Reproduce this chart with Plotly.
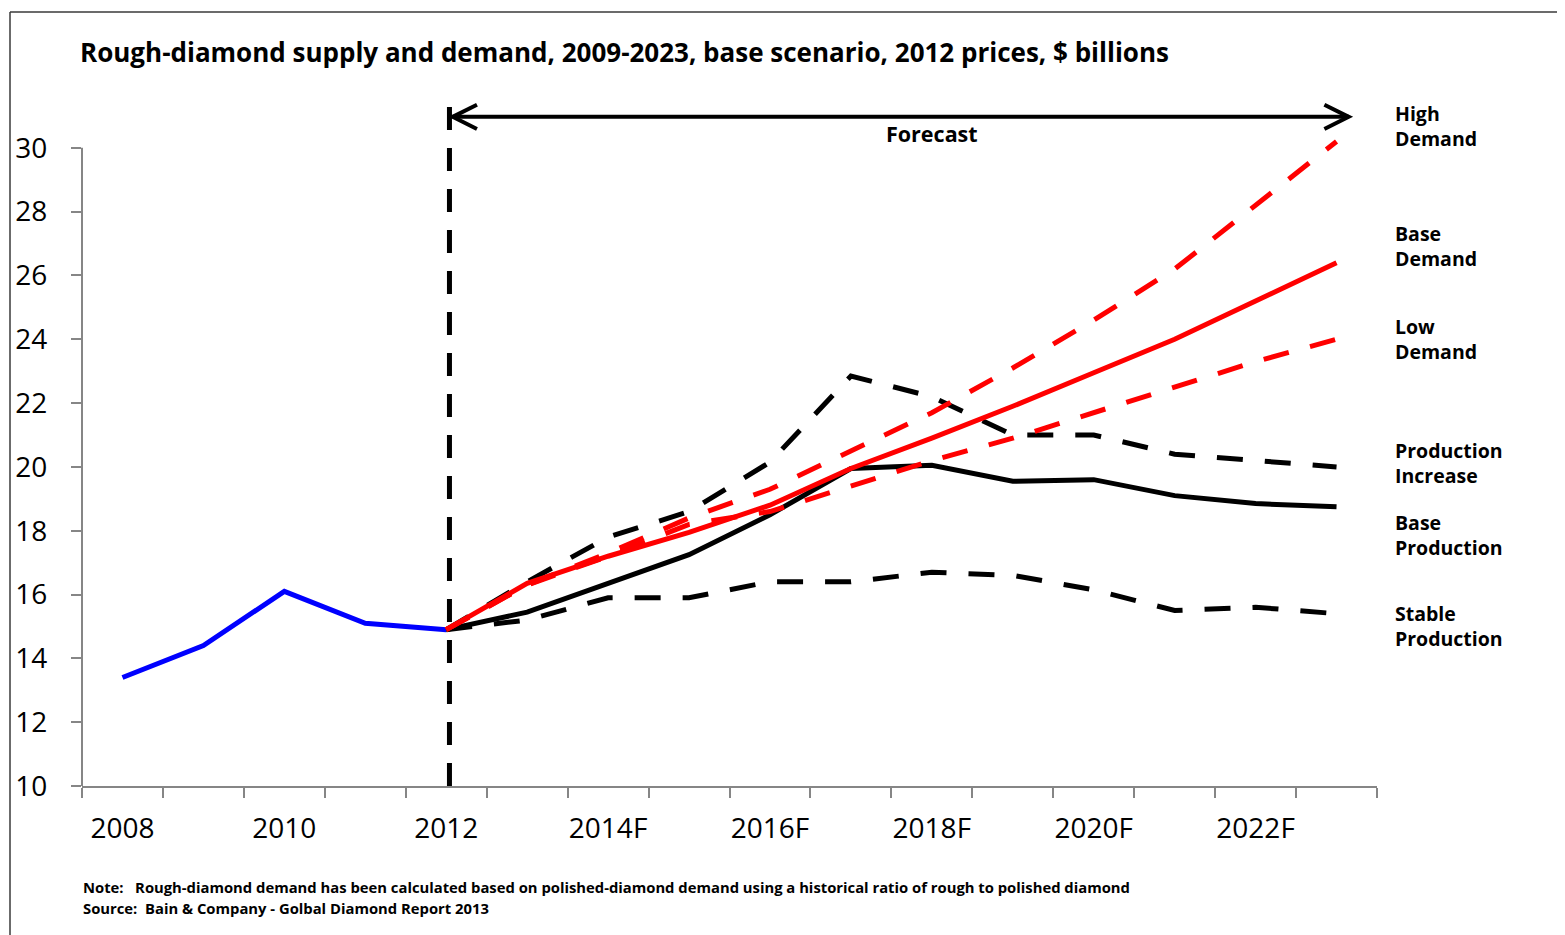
import plotly.graph_objects as go

# ---------------- data ----------------
hist_years = [2008, 2009, 2010, 2011, 2012]
hist_values = [13.4, 14.4, 16.1, 15.1, 14.9]

fc_years = [2012, 2013, 2014, 2015, 2016, 2017, 2018, 2019, 2020, 2021, 2022, 2023]
high_demand = [14.9, 16.3, 17.3, 18.4, 19.3, 20.5, 21.7, 23.1, 24.6, 26.2, 28.2, 30.2]
base_demand = [14.9, 16.35, 17.2, 17.95, 18.8, 19.95, 20.9, 21.9, 22.95, 24.0, 25.2, 26.4]
low_demand = [14.9, 16.3, 17.2, 18.2, 18.6, 19.4, 20.2, 20.9, 21.7, 22.5, 23.3, 24.0]
production_increase = [14.9, 16.4, 17.8, 18.6, 20.15, 22.85, 22.2, 21.0, 21.0, 20.4, 20.2, 20.0]
base_production = [14.9, 15.45, 16.35, 17.25, 18.5, 19.95, 20.05, 19.55, 19.6, 19.1, 18.85, 18.75]
stable_production = [14.9, 15.2, 15.9, 15.9, 16.4, 16.4, 16.7, 16.6, 16.15, 15.5, 15.6, 15.4]

tick_years = [2008, 2010, 2012, 2014, 2016, 2018, 2020, 2022]
tick_labels = ["2008", "2010", "2012", "2014F", "2016F", "2018F", "2020F", "2022F"]
y_ticks = [10, 12, 14, 16, 18, 20, 22, 24, 26, 28, 30]

series_labels = ["High<br>Demand", "Base<br>Demand", "Low<br>Demand",
                 "Production<br>Increase", "Base<br>Production", "Stable<br>Production"]
series_label_y = [30.69, 26.93, 24.01, 20.13, 17.87, 15.02]

title_text = "Rough-diamond supply and demand, 2009-2023, base scenario, 2012 prices, $ billions"
note_text = "Note:   Rough-diamond demand has been calculated based on polished-diamond demand using a historical ratio of rough to polished diamond"
source_text = "Source:  Bain & Company - Golbal Diamond Report 2013"

# ---------------- layout geometry (screen pixels; page body has an 8px margin) ----------------
OFF = 8
SW, SH = 1565, 935
W, H = SW - OFF, SH - OFF
PX_L, PX_R, PX_T, PX_B = 82, 1377, 84, 786   # plot area on screen
L, R, T, B = PX_L - OFF, W - (PX_R - OFF), PX_T - OFF, H - (PX_B - OFF)
PW, PH = PX_R - PX_L, PX_B - PX_T
FONT = "Open Sans"
GRAY = "#868686"

def px_x(p):
    return (p - PX_L) / PW

def px_y(p):
    return (PX_B - p) / PH

fig = go.Figure()

dash_series = "26px,22px"
fig.add_trace(go.Scatter(x=hist_years, y=hist_values, mode="lines",
                         line=dict(color="#0000FF", width=5), name="Historical"))
fig.add_trace(go.Scatter(x=fc_years, y=stable_production, mode="lines",
                         line=dict(color="#000000", width=5, dash=dash_series), name="Stable Production"))
fig.add_trace(go.Scatter(x=fc_years, y=production_increase, mode="lines",
                         line=dict(color="#000000", width=5, dash=dash_series), name="Production Increase"))
fig.add_trace(go.Scatter(x=fc_years, y=base_production, mode="lines",
                         line=dict(color="#000000", width=5), name="Base Production"))
fig.add_trace(go.Scatter(x=fc_years, y=low_demand, mode="lines",
                         line=dict(color="#FF0000", width=5, dash=dash_series), name="Low Demand"))
fig.add_trace(go.Scatter(x=fc_years, y=high_demand, mode="lines",
                         line=dict(color="#FF0000", width=5, dash=dash_series), name="High Demand"))
fig.add_trace(go.Scatter(x=fc_years, y=base_demand, mode="lines",
                         line=dict(color="#FF0000", width=5), name="Base Demand"))

shapes = []
# y axis line
shapes.append(dict(type="line", xref="paper", yref="y", x0=0, x1=0, y0=10, y1=30,
                   line=dict(color=GRAY, width=2), layer="below"))
# vertical forecast divider
shapes.append(dict(type="line", xref="x", yref="y", x0=2012.04, x1=2012.04, y0=10, y1=31.5,
                   line=dict(color="#000000", width=5, dash="23px,18px")))
# forecast arrow
ay = 30.97
xl, xr = 2012.08, 2023.15
dx, dy = 0.30, 0.38
shapes.append(dict(type="line", xref="x", yref="y", x0=xl, x1=xr, y0=ay, y1=ay,
                   line=dict(color="#000000", width=4)))
shapes.append(dict(type="path", xref="x", yref="y",
                   path=f"M{xl+dx},{ay+dy} L{xl},{ay} L{xl+dx},{ay-dy}",
                   line=dict(color="#000000", width=4)))
shapes.append(dict(type="path", xref="x", yref="y",
                   path=f"M{xr-dx},{ay+dy} L{xr},{ay} L{xr-dx},{ay-dy}",
                   line=dict(color="#000000", width=4)))
# outer frame (top and left edges)
shapes.append(dict(type="line", xref="paper", yref="paper", x0=px_x(10), x1=px_x(SW + 5),
                   y0=px_y(12), y1=px_y(12), line=dict(color="#3a3a3a", width=1.5)))
shapes.append(dict(type="line", xref="paper", yref="paper", x0=px_x(10), x1=px_x(10),
                   y0=px_y(12), y1=px_y(SH + 5), line=dict(color="#3a3a3a", width=1.5)))

annotations = []
annotations.append(dict(text="<b>Forecast</b>", x=2018.0, y=30.44, xref="x", yref="y",
                        showarrow=False, font=dict(family=FONT, size=21.5, color="#000000")))
for lab, yv in zip(series_labels, series_label_y):
    annotations.append(dict(text=f"<b>{lab}</b>", x=px_x(1393), y=yv, xref="paper", yref="y",
                            xanchor="left", yanchor="middle", align="left", showarrow=False,
                            font=dict(family=FONT, size=19.5, color="#000000")))
annotations.append(dict(text=f"<b>{note_text}</b>", x=px_x(81), y=px_y(887), xref="paper", yref="paper",
                        xanchor="left", yanchor="middle", showarrow=False,
                        font=dict(family=FONT, size=14.8, color="#000000")))
annotations.append(dict(text=f"<b>{source_text}</b>", x=px_x(81), y=px_y(908), xref="paper", yref="paper",
                        xanchor="left", yanchor="middle", showarrow=False,
                        font=dict(family=FONT, size=14.8, color="#000000")))

fig.update_layout(
    width=W, height=H,
    margin=dict(l=L, r=R, t=T, b=B),
    paper_bgcolor="white", plot_bgcolor="white",
    showlegend=False,
    title=dict(text=f"<b>{title_text}</b>", x=(80 - OFF) / W, xref="container", xanchor="left",
               y=1 - (53 - OFF) / H, yref="container", yanchor="middle",
               font=dict(family=FONT, size=26, color="#000000")),
    xaxis=dict(range=[2007.5, 2023.5], tickmode="array", tickvals=tick_years, ticktext=tick_labels,
               ticks="", showgrid=False, zeroline=False, showline=True, linecolor=GRAY, linewidth=2,
               automargin=False,
               tickfont=dict(family=FONT, size=28, color="#000000"), ticklabelstandoff=16,
               minor=dict(tickmode="array", tickvals=[2007.5 + i for i in range(17)], ticks="outside",
                          ticklen=10, tickwidth=2, tickcolor=GRAY, showgrid=False)),
    yaxis=dict(range=[10, 32], tickmode="array", tickvals=y_ticks, ticks="outside", ticklen=10,
               tickwidth=2, tickcolor=GRAY, showgrid=False, zeroline=False, showline=False,
               automargin=False,
               tickfont=dict(family=FONT, size=28, color="#000000"), ticklabelstandoff=18),
    shapes=shapes,
    annotations=annotations,
)

fig.write_html("out.html")
